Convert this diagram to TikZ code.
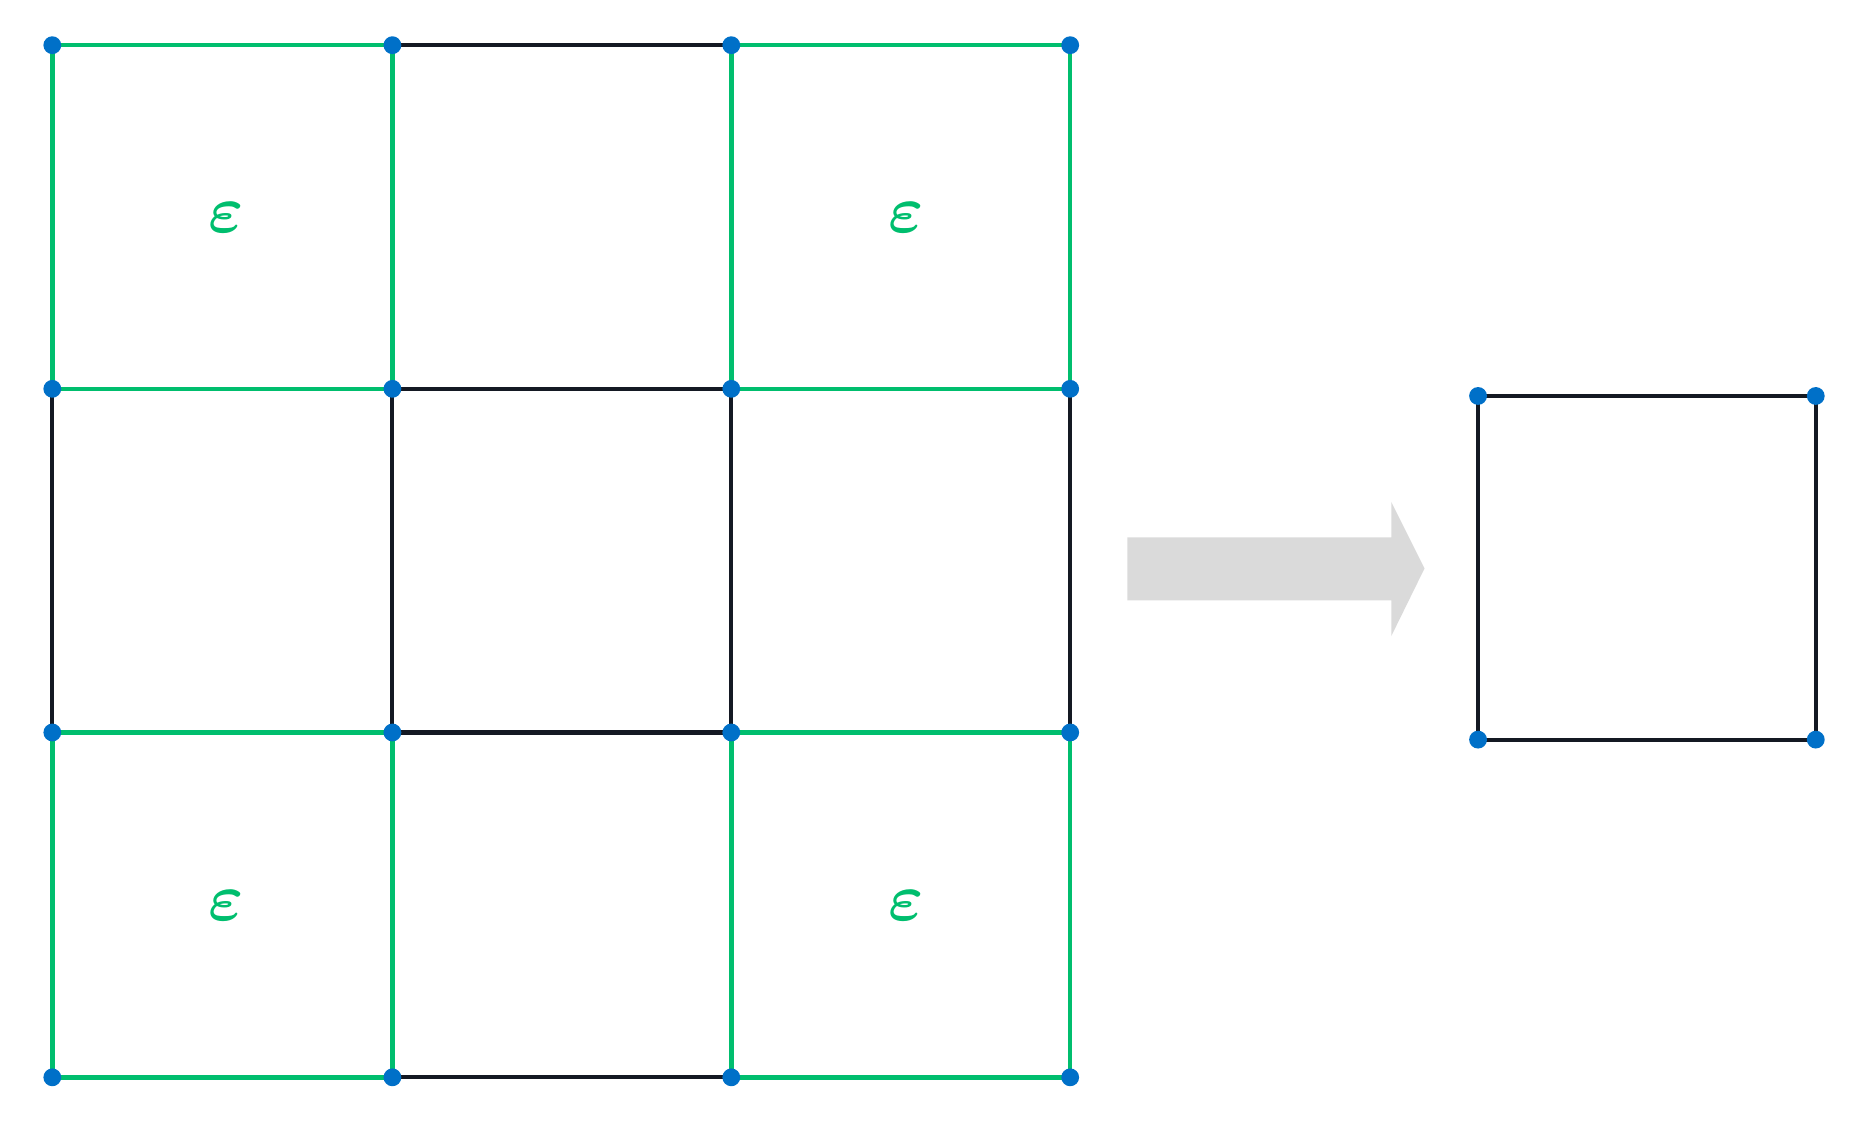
\documentclass[tikz,border=0pt]{standalone}
\usetikzlibrary{calc}
\definecolor{gr}{RGB}{0,190,110}
\definecolor{bl}{RGB}{0,112,200}
\definecolor{dk}{RGB}{20,25,35}
\definecolor{ag}{RGB}{218,218,218}
\begin{document}
\begin{tikzpicture}[x=0.02cm,y=-0.02cm,
  dot/.style={circle,fill=bl,inner sep=0pt,minimum size=0.3cm},
  ge/.style={draw=gr,line width=2.2pt},
  be/.style={draw=dk,line width=2pt},
  eps/.style={text=gr,scale=3.2,font=\boldmath}]
\useasboundingbox (0,0) rectangle (1560,942);
\foreach \x/\i in {44/0,330/1,615/2,900/3}
  \foreach \y/\j in {38/0,327/1,616/2,906/3}
    \coordinate (p\i\j) at (\x,\y);
\draw[be] (p10)--(p20) (p11)--(p21) (p12)--(p22) (p13)--(p23);
\draw[be] (p01)--(p02) (p11)--(p12) (p21)--(p22) (p31)--(p32);
\foreach \a/\b in {0/0,2/0,0/2,2/2}{
  \pgfmathtruncatemacro{\c}{\a+1}\pgfmathtruncatemacro{\d}{\b+1}
  \draw[ge] (p\a\b)--(p\c\b)--(p\c\d)--(p\a\d)--cycle;}
\node[eps] (e1) at (190,183) {$\varepsilon$};
\node[eps] (e2) at (762,183) {$\varepsilon$};
\node[eps] (e3) at (190,762) {$\varepsilon$};
\node[eps] (e4) at (762,762) {$\varepsilon$};
\foreach \i in {0,1,2,3}\foreach \j in {0,1,2,3}
  \node[dot] (d\i\j) at (p\i\j) {};
\fill[ag] (948,452)--(1170,452)--(1170,422)--(1198,478)--(1170,535)--(1170,505)--(948,505)--cycle;
\coordinate (s1) at (1243,333); \coordinate (s2) at (1527,333);
\coordinate (s3) at (1527,622); \coordinate (s4) at (1243,622);
\draw[be] (s1)--(s2)--(s3)--(s4)--cycle;
\foreach \k in {1,2,3,4} \node[dot] (sd\k) at (s\k) {};
\end{tikzpicture}
\end{document}
